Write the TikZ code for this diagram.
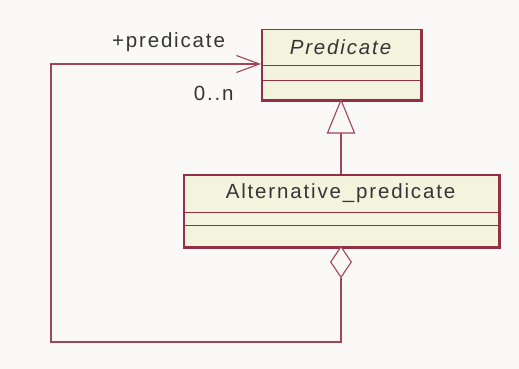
\documentclass[tikz,border=0pt]{standalone}
\usepackage{fontspec}
\setmainfont{Liberation Sans}
\usetikzlibrary{arrows.meta,shapes.geometric}
\definecolor{bgc}{HTML}{FAF9F7}
\definecolor{umlline}{HTML}{933045}
\definecolor{connline}{HTML}{A04558}
\definecolor{umlfill}{HTML}{F3F3DE}
\definecolor{umltext}{HTML}{353535}
\newfontfamily\umlfont[LetterSpace=9]{Liberation Sans}
\tikzset{
  classbox/.style={draw=umlline, fill=umlfill, line width=1.5pt, inner sep=0pt, anchor=north west},
  classname/.style={text=umltext, font=\umlfont\fontsize{20.5}{24}\selectfont, inner sep=0pt},
  rolelabel/.style={text=umltext, font=\umlfont\fontsize{20.5}{24}\selectfont, inner sep=0pt},
  divider/.style={draw=umlline, line width=1pt},
  conn/.style={draw=connline, line width=1.1pt},
  edgeline/.style={draw=umlline, line width=1pt},
}
\begin{document}
\begin{tikzpicture}[x=1pt,y=-1pt]
\useasboundingbox[fill=bgc] (0,0) rectangle (519,369);
% Predicate class
\node[classbox, minimum width=159pt, minimum height=70pt] (pred) at (261,29) {};
\draw[edgeline] ([shift={(0.8pt,0pt)}]pred.north east) -- ([shift={(0.8pt,-0.8pt)}]pred.south east) -- ([shift={(0pt,-0.8pt)}]pred.south west);
\node[classname, font=\umlfont\itshape\fontsize{20.5}{24}\selectfont] (predname) at (340.5,47.5) {Predicate};
\coordinate (pd1) at (261,66); \coordinate (pd2) at (420,66);
\coordinate (pd3) at (261,80); \coordinate (pd4) at (420,80);
\draw[divider] (pd1) -- (pd2);
\draw[divider] (pd3) -- (pd4);
% Alternative_predicate class
\node[classbox, minimum width=315pt, minimum height=72pt] (alt) at (183,174) {};
\draw[edgeline] ([shift={(0.8pt,0pt)}]alt.north east) -- ([shift={(0.8pt,-0.8pt)}]alt.south east) -- ([shift={(0pt,-0.8pt)}]alt.south west);
\node[classname] (altname) at (340.5,193) {Alternative\_predicate};
\coordinate (ad1) at (183,212); \coordinate (ad2) at (498,212);
\coordinate (ad3) at (183,225); \coordinate (ad4) at (498,225);
\draw[divider] (ad1) -- (ad2);
\draw[divider] (ad3) -- (ad4);
% Generalization
\coordinate (gtip) at (341,100);
\coordinate (gl) at (327.5,133);
\coordinate (gr) at (354.5,133);
\coordinate (gb) at (341,133);
\draw[conn, fill=bgc] (gtip) -- (gl) -- (gr) -- cycle;
\draw[conn] (gb) -- (gb |- alt.north);
% Aggregation
\node[draw=connline, fill=bgc, line width=1.1pt, diamond, inner sep=0pt, minimum width=21pt, minimum height=31pt, aspect=0.68] (diam) at (341,262) {};
\coordinate (c1) at (341,342);
\coordinate (c2) at (51,342);
\coordinate (c3) at (51,64);
\draw[conn, -{Straight Barb[length=23pt,width=17pt,line width=1.1pt]}] (diam.south) -- (c1) -- (c2) -- (c3) -- (pred.west |- c3);
% labels
\node[rolelabel] (role) at (168.5,42) {+predicate};
\node[rolelabel] (mult) at (213.7,93) {0..n};
\end{tikzpicture}
\end{document}
